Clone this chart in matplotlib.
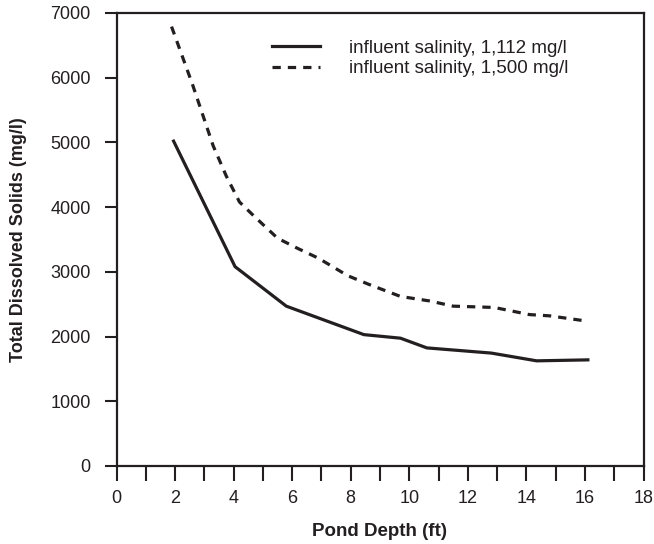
import matplotlib
matplotlib.use('Agg')
import matplotlib.pyplot as plt

# Pond depth (ft) and total dissolved solids (mg/l)
depth_1112 = [1.95, 4.05, 5.8, 8.45, 9.7, 10.6, 12.8, 14.35, 16.1]
tds_1112 = [5020, 3080, 2470, 2030, 1975, 1825, 1745, 1625, 1640]

depth_1500 = [1.88, 2.6, 3.3, 3.75, 4.2, 4.7, 5.5, 6.2, 6.9, 7.9, 8.6, 9.7, 10.7, 11.5, 12.9, 14.1, 14.8, 16.05]
tds_1500 = [6790, 5890, 4950, 4480, 4080, 3860, 3520, 3360, 3210, 2940, 2810, 2620, 2550, 2470, 2450, 2340, 2320, 2240]

labels = ['influent salinity, 1,112 mg/l', 'influent salinity, 1,500 mg/l']

ink = '#231f20'
plt.rcParams['font.family'] = ['Liberation Sans', 'DejaVu Sans']

fig = plt.figure(figsize=(6.54, 5.44), dpi=100)
ax = fig.add_axes([116.5/654, 1 - 466/544, (643.5 - 116.5)/654, (466 - 13)/544])

ax.plot(depth_1112, tds_1112, color=ink, lw=2.3, solid_joinstyle='round', label=labels[0])
ax.plot(depth_1500, tds_1500, color=ink, lw=2.3, linestyle=(0, (2.6, 2.2)), label=labels[1])

ax.set_xlim(0, 18)
ax.set_ylim(0, 7000)
ax.set_xticks(range(0, 19, 2))
ax.set_xticks(range(1, 18, 2), minor=True)
ax.set_yticks(range(0, 7001, 1000))
ax.tick_params(axis='x', which='both', direction='out', length=11, width=1.5, color=ink,
               labelsize=13, labelcolor=ink, pad=6)
ax.tick_params(axis='y', direction='out', length=8.5, width=1.5, color=ink,
               labelsize=13, labelcolor=ink, pad=10)
for s in ax.spines.values():
    s.set_linewidth(1.6)
    s.set_color(ink)

ax.set_xlabel('Pond Depth (ft)', fontsize=13.5, fontweight='bold', color=ink, labelpad=12)
ax.set_ylabel('Total Dissolved Solids (mg/l)', fontsize=13, fontweight='bold', color=ink, labelpad=17)

ax.legend(loc='upper left', bbox_to_anchor=(272/654, 1 - 39.5/544), bbox_transform=fig.transFigure,
          frameon=False, fontsize=13.5, handlelength=2.55, handletextpad=1.55, labelspacing=0.18,
          borderpad=0, borderaxespad=0, labelcolor=ink)

fig.savefig('out.png', dpi=100)
